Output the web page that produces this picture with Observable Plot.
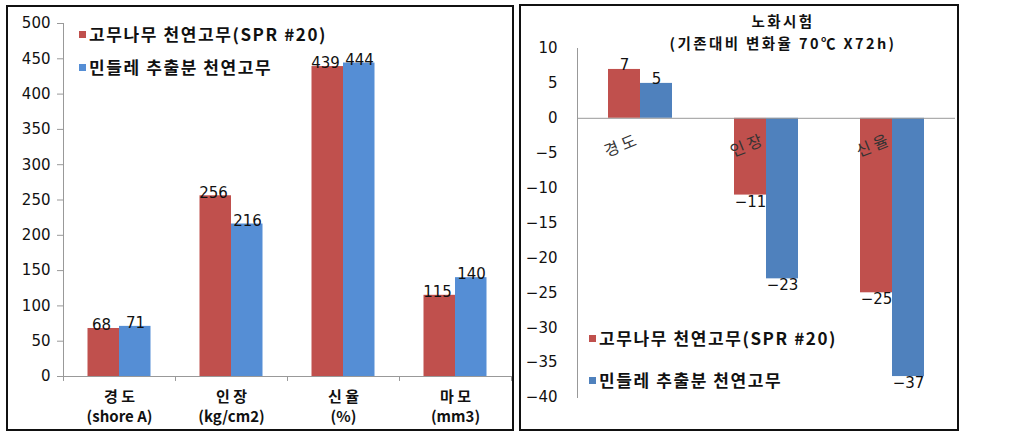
<!DOCTYPE html>
<html><head><meta charset="utf-8">
<script src="https://cdn.jsdelivr.net/npm/d3@7"></script>
<script src="https://cdn.jsdelivr.net/npm/@observablehq/plot@0.6"></script>
<style>
body{margin:0;background:#fff;width:1022px;height:436px;position:relative;overflow:hidden;font-family:"DejaVu Sans",sans-serif;}
.panel{position:absolute;border:2px solid #111;box-sizing:border-box;}
.chart{position:absolute;top:0;}
.leg{position:absolute;font-family:"Noto Sans CJK KR",sans-serif;font-weight:700;font-size:17px;color:#111;white-space:nowrap;letter-spacing:1.6px;line-height:20px;}
.leg i{display:inline-block;width:7px;height:7px;margin-right:3px;vertical-align:middle;position:relative;top:-2px;}
.title{position:absolute;font-family:"Noto Sans CJK KR",sans-serif;font-weight:700;font-size:14.5px;color:#111;text-align:center;white-space:nowrap;line-height:21px;letter-spacing:2.4px;}
</style></head>
<body>
<div class="panel" style="left:6px;top:5px;width:508px;height:426px"></div>
<div class="panel" style="left:519px;top:4px;width:440px;height:427px"></div>
<div id="left" class="chart" style="left:0"></div>
<div id="right" class="chart" style="left:515px"></div>
<div class="leg" style="left:79px;top:24px"><i style="background:#C0504D"></i>고무나무 천연고무(SPR #20)</div>
<div class="leg" style="left:79px;top:57px"><i style="background:#558ED5"></i>민들레 추출분 천연고무</div>
<div class="leg" style="left:589px;top:328px"><i style="background:#C0504D"></i>고무나무 천연고무(SPR #20)</div>
<div class="leg" style="left:589px;top:370px"><i style="background:#4F81BD"></i>민들레 추출분 천연고무</div>
<div class="title" style="left:583px;width:400px;top:10px">노화시험</div>
<div class="title" style="left:583px;width:400px;top:32px">(기존대비 변화율 70℃ X72h)</div>
<script>
const seriesNames = ["고무나무 천연고무(SPR #20)", "민들레 추출분 천연고무"];
// Left chart: properties
const propCats = ["경도", "인장", "신율", "마모"];
const propUnits = ["(shore A)", "(kg/cm2)", "(%)", "(mm3)"];
const propRubber = [68, 256, 439, 115];
const propDandelion = [71, 216, 444, 140];
const propTicks = [0, 50, 100, 150, 200, 250, 300, 350, 400, 450, 500];
// Right chart: aging test change rate
const ageCats = ["경도", "인장", "신율"];
const ageRubber = [7, -11, -25];
const ageDandelion = [5, -23, -37];
const ageTicks = [10, 5, 0, -5, -10, -15, -20, -25, -30, -35, -40];

const propData = propCats.map((c, i) => ({cat: c, unit: propUnits[i], a: propRubber[i], b: propDandelion[i]}));
const ageData = ageCats.map((c, i) => ({cat: c, a: ageRubber[i], b: ageDandelion[i]}));

const numFont = "DejaVu Sans, sans-serif";
const fmt = d => d < 0 ? "−" + Math.abs(d) : String(d);

const left = Plot.plot({
  width: 515, height: 436,
  marginLeft: 63, marginRight: 4, marginTop: 23, marginBottom: 60,
  style: {fontFamily: numFont, fontSize: "14px", color: "#111", background: "transparent"},
  x: {type: "band", domain: propCats, padding: 0},
  y: {domain: [0, 500], ticks: propTicks},
  marks: [
    Plot.barY(propData, {x: "cat", y: "a", fill: "#C0504D", insetLeft: 24.5, insetRight: 56}),
    Plot.barY(propData, {x: "cat", y: "b", fill: "#558ED5", insetLeft: 56, insetRight: 24.5}),
    Plot.ruleY([0], {stroke: "#999"}),
    Plot.ruleX(propCats, {x: d => d, dx: -56, y1: 0, y2: -7, stroke: "#999", clip: false}),
    Plot.ruleX(propCats.slice(-1), {x: d => d, dx: 56, y1: 0, y2: -7, stroke: "#999", clip: false}),
    Plot.frame({anchor: "left", stroke: "#999"}),
    Plot.axisY({ticks: propTicks, tickSize: 6, tickPadding: 7, stroke: "#999", fontSize: 15, tickFormat: d => String(d), fill: "#111"}),
    Plot.axisX({tickSize: 0, tickPadding: 12, label: null, fontWeight: "bold", fontSize: 15,
      fontFamily: "Noto Sans CJK KR, sans-serif", lineHeight: 1.3,
      tickFormat: d => d.split("").join(" ") + "\n" + propUnits[propCats.indexOf(d)]}),
    Plot.text(propData, {x: "cat", y: "a", text: d => String(d.a), dx: -18, dy: -3, fontSize: 15, fill: "#111"}),
    Plot.text(propData, {x: "cat", y: "b", text: d => String(d.b), dx: 16, dy: -3, fontSize: 15, fill: "#111"})
  ]
});
document.getElementById("left").appendChild(left);

const right = Plot.plot({
  width: 507, height: 436,
  marginLeft: 62, marginRight: 67, marginTop: 48, marginBottom: 39,
  style: {fontFamily: numFont, fontSize: "14px", color: "#111", background: "transparent"},
  x: {type: "band", domain: ageCats, padding: 0},
  y: {domain: [-40, 10], ticks: ageTicks},
  marks: [
    Plot.barY(ageData, {x: "cat", y: "a", fill: "#C0504D", insetLeft: 31, insetRight: 63}),
    Plot.barY(ageData, {x: "cat", y: "b", fill: "#4F81BD", insetLeft: 63, insetRight: 31}),
    Plot.ruleY([0], {stroke: "#999"}),
    Plot.frame({anchor: "left", stroke: "#999"}),
    Plot.axisY({ticks: ageTicks, tickSize: 0, tickPadding: 20, fontSize: 15, fill: "#111", tickFormat: fmt}),
    Plot.axisX({ticks: [], label: null}),
    Plot.text(ageData, {x: "cat", y: 0, text: d => d.cat.split("").join(" "), dx: -20, dy: 28, rotate: -22,
      fontFamily: "Noto Sans CJK KR, sans-serif", fontSize: 16, fill: "#333"}),
    Plot.text(ageData.filter(d => d.a >= 0), {x: "cat", y: "a", text: d => fmt(d.a), dx: -16, lineAnchor: "bottom", dy: 1, fontSize: 15, fill: "#111"}),
    Plot.text(ageData.filter(d => d.b >= 0), {x: "cat", y: "b", text: d => fmt(d.b), dx: 16, lineAnchor: "bottom", dy: 1, fontSize: 15, fill: "#111"}),
    Plot.text(ageData.filter(d => d.a < 0), {x: "cat", y: "a", text: d => fmt(d.a), dx: -16, lineAnchor: "top", dy: 1, fontSize: 15, fill: "#111"}),
    Plot.text(ageData.filter(d => d.b < 0), {x: "cat", y: "b", text: d => fmt(d.b), dx: 16, lineAnchor: "top", dy: 1, fontSize: 15, fill: "#111"})
  ]
});
document.getElementById("right").appendChild(right);
</script>
</body></html>
